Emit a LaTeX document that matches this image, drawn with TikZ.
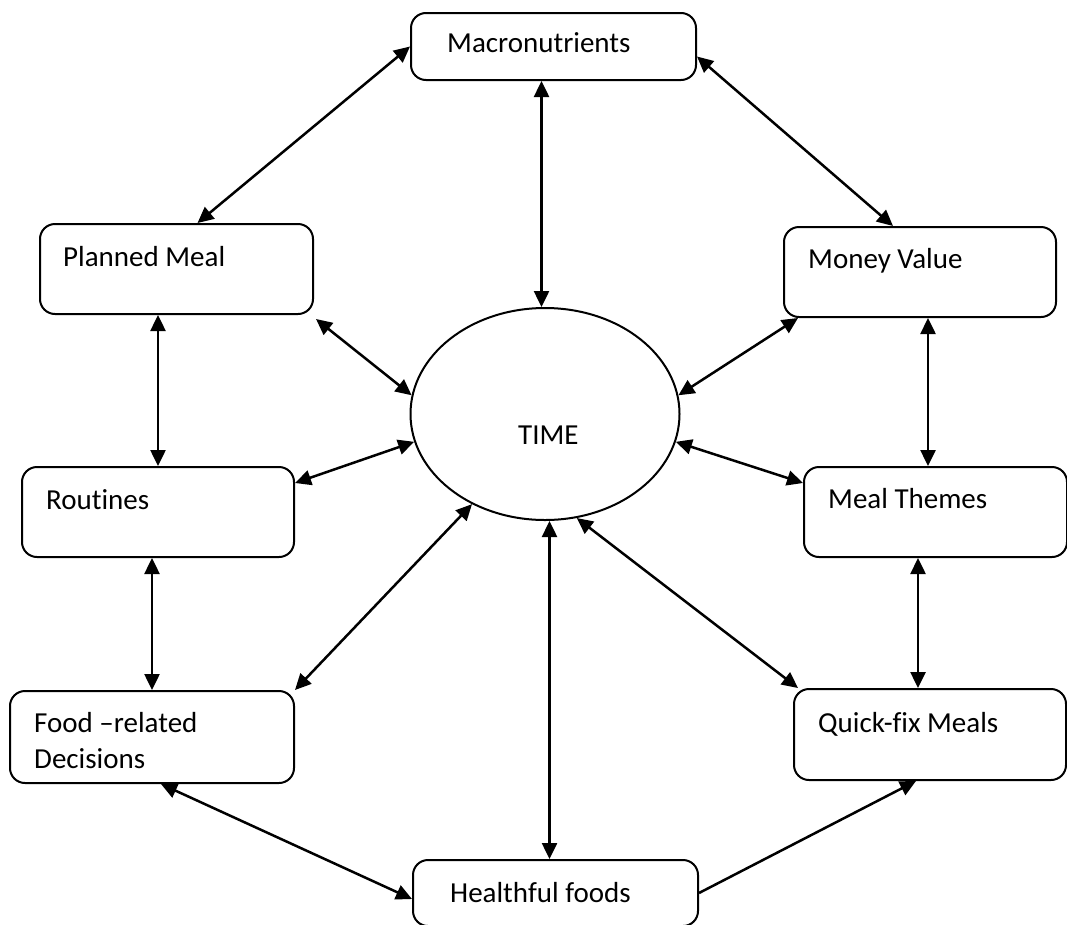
\documentclass[tikz,border=0pt]{standalone}
\usepackage{fontspec}
\setmainfont{Carlito}[Ligatures={NoCommon}]
\usetikzlibrary{arrows.meta,positioning,shapes.geometric}

\begin{document}
\begin{tikzpicture}[x=1pt,y=-1pt,
box/.style={draw,line width=2pt,rounded corners=15pt,anchor=north west,inner sep=0pt},
lbl/.style={anchor=base west,inner sep=0pt,font=\fontsize{29}{36}\selectfont},
arr/.style={{Triangle[length=16pt,width=15pt]}-{Triangle[length=16pt,width=15pt]},line width=2.5pt},
arrone/.style={-{Triangle[length=16pt,width=15pt]},line width=2.5pt}]
\useasboundingbox (0,0) rectangle (1067,924);
\node[box,minimum width=285pt,minimum height=67pt] at (410,12)(macro){};
\node[box,minimum width=273pt,minimum height=90pt] at (39,223)(plan){};
\node[box,minimum width=272pt,minimum height=90pt] at (783,226)(money){};
\node[box,minimum width=272pt,minimum height=90pt] at (21,466)(rout){};
\node[box,minimum width=263pt,minimum height=90pt] at (803,466)(meal){};
\node[box,minimum width=284pt,minimum height=92pt] at (9,690)(food){};
\node[box,minimum width=272pt,minimum height=91pt] at (793,688)(quick){};
\node[box,minimum width=285pt,minimum height=66pt] at (412,859)(health){};
\node[draw,ellipse,line width=2pt,inner sep=0pt,minimum width=269pt,minimum height=212pt] at (545,414)(time){};
\node[lbl] at ([shift={(37,40)}]macro.north west)(macroT){Macronutrients};
\node[lbl] at ([shift={(24,43)}]plan.north west)(planT){Planned Meal};
\node[lbl] at ([shift={(25,42)}]money.north west)(moneyT){Money Value};
\node[lbl] at ([shift={(25,43)}]rout.north west)(routT){Routines};
\node[lbl] at ([shift={(25,42)}]meal.north west)(mealT){Meal Themes};
\node[lbl] at ([shift={(25,42)}]food.north west)(foodT){Food –related};
\node[lbl] at ([shift={(25,78)}]food.north west)(foodT2){Decisions};
\node[lbl] at ([shift={(25,44)}]quick.north west)(quickT){Quick-fix Meals};
\node[lbl] at ([shift={(38,43)}]health.north west)(healthT){Healthful foods};
\node[lbl] at ([shift={(-27,30)}]time.center)(timeT){TIME};
\draw[arr]([xshift=21pt]plan.north)--(macro.west);
\draw[arr]([yshift=-10pt]macro.east)--([xshift=-27pt]money.north);
\draw[arr]([xshift=-12pt]macro.south)--([xshift=-12pt]macro.south |- time.north);
\draw[arr]([shift={(2,4)}]plan.south east)--(time.172);
\draw[arr]([yshift=29pt]rout.east)--(time.192);
\draw[arr](food.north east)--(time.231);
\draw[arr]([xshift=15pt]money.south west)--(time.8);
\draw[arr]([yshift=29pt]meal.west)--(time.348);
\draw[arr]([xshift=5pt]quick.north west)--(time.287);
\draw[arr]([xshift=-6pt]health.north)--([xshift=-6pt]health.north |- time.south);
\draw[arr](rout.north)--(rout.north |- plan.south);
\draw[arr](food.north)--(food.north |- rout.south);
\draw[arr]([xshift=8pt]money.south)--([xshift=8pt]money.south |- meal.north);
\draw[arr]([xshift=-12pt]quick.north)--([xshift=-12pt]quick.north |- meal.south);
\draw[arr]([xshift=9pt]food.south)--([yshift=-6pt]health.west);
\draw[arrone](health.east)--([xshift=-14pt]quick.south);
\end{tikzpicture}
\end{document}
